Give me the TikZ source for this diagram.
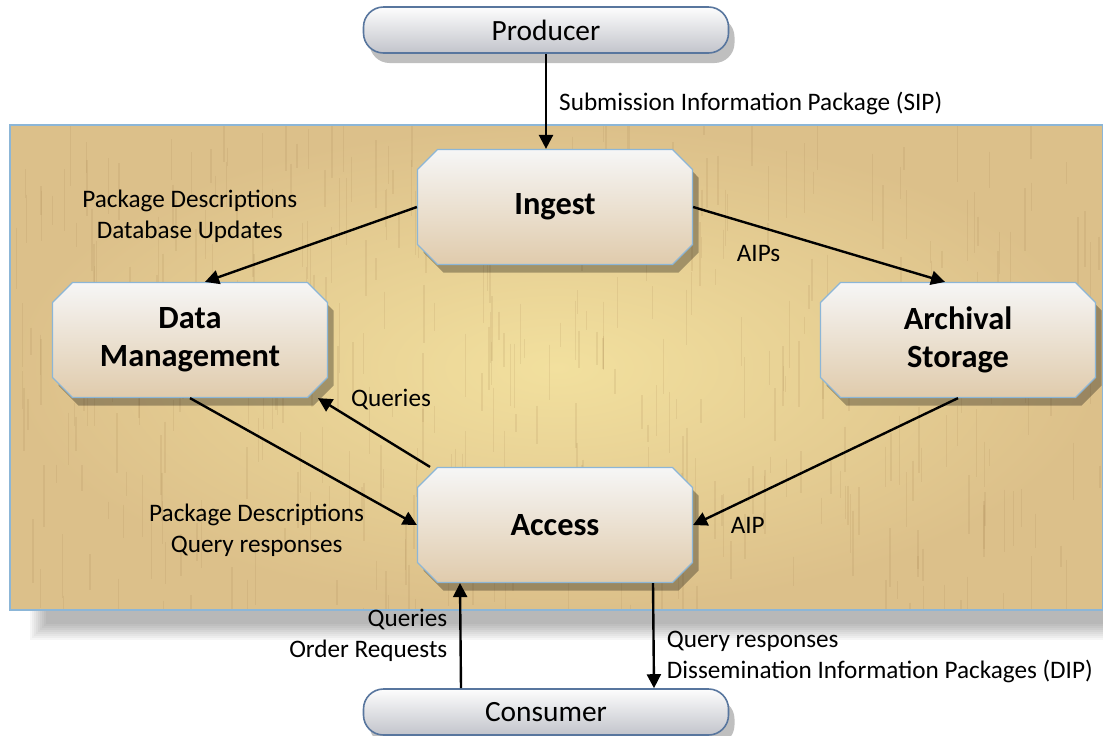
\documentclass[tikz,border=0pt]{standalone}
\usepackage{fontspec}
\setmainfont{Carlito}
\usetikzlibrary{positioning,shapes.misc,arrows.meta,shadows}

\definecolor{papyrus}{RGB}{220,192,138}
\definecolor{papyruslight}{RGB}{242,224,158}
\definecolor{papyrusfibre}{RGB}{170,135,85}
\definecolor{boxtop}{RGB}{246,246,246}
\definecolor{boxbottom}{RGB}{224,203,172}
\definecolor{boxline}{RGB}{140,182,215}
\definecolor{pilltop}{RGB}{253,253,253}
\definecolor{pillbottom}{RGB}{194,196,203}
\definecolor{pillline}{RGB}{88,118,158}

\begin{document}
\begin{tikzpicture}[
  x=0.5pt, y=-0.5pt,
  every node/.style={font=\fontsize{12.6}{15.5}\selectfont},
  func/.style ={chamfered rectangle, chamfered rectangle xsep=5pt,
                chamfered rectangle ysep=5pt, draw=boxline, line width=0.6pt,
                top color=boxtop, bottom color=boxbottom,
                minimum width=137.5pt, minimum height=57.5pt, align=center,
                font=\fontsize{16.2}{19}\selectfont\bfseries,
                drop shadow={shadow xshift=3pt, shadow yshift=-4pt,
                             opacity=0.3, fill=black}},
  pill/.style ={draw=pillline, line width=0.8pt, rounded corners=10pt,
                top color=pilltop, bottom color=pillbottom,
                minimum width=182.5pt, minimum height=23pt,
                font=\fontsize{14.7}{16}\selectfont,
                drop shadow={shadow xshift=3pt, shadow yshift=-5pt,
                             opacity=0.25, fill=black}},
  lbl/.style  ={inner sep=2pt},
  arr/.style  ={-{Triangle[length=7pt,width=7pt]}, line width=1.2pt}
]
\useasboundingbox (0,0) rectangle (1103,735);

% soft shadow under the papyrus panel
\foreach \d in {0,2,...,16}
  \fill[black, opacity=0.035] (30+\d,140+\d) rectangle (1103,640-\d);
% papyrus panel
\fill[papyrus] (10,125) rectangle (1103,610);
\shade[inner color=papyruslight, outer color=papyrus] (10,125) rectangle (1103,610);
\begin{scope}
  \clip (10,125) rectangle (1103,610);
  \pgfmathsetseed{7}
  \foreach \k in {1,...,420}
    \draw[papyrusfibre, opacity=0.16, line width=0.7pt]
      ({10+1093*rnd},{115+495*rnd}) -- ++(0,{15+55*rnd});
\end{scope}
\draw[boxline, line width=0.8pt] (10,125) rectangle (1103,610);

\node[pill] (producer) at (546,30) {Producer};
\node[func] (ingest)   at (555,207) {Ingest};
\node[func] (dataman)  at (190,340) {Data\\Management};
\node[func] (archive)  at (958,340) {Archival\\Storage};
\node[func] (access)   at (555,525) {Access};
\node[pill] (consumer) at (546,712) {Consumer};

\draw[arr] (producer.south) -- (producer.south |- ingest.north)
  node[lbl, pos=0.52, right=4pt] {Submission Information Package (SIP)};
\draw[arr] (ingest.west) -- ([xshift=7.5pt]dataman.north)
  node[lbl, pos=0.54, anchor=south east, align=center]
  {Package Descriptions\\Database Updates};
\draw[arr] (ingest.east) -- ([xshift=-6.5pt]archive.north)
  node[lbl, pos=0.26, anchor=north, yshift=-7pt] {AIPs};
\draw[arr] (dataman.south) -- (access.west)
  node[lbl, pos=0.79, anchor=north east, align=center]
  {Package Descriptions\\Query responses};
\draw[arr] ([xshift=-62.5pt]access.north) -- ([xshift=64pt]dataman.south)
  node[lbl, pos=0.75, anchor=south west] {Queries};
\draw[arr] (archive.south) -- (access.east)
  node[lbl, pos=0.9, anchor=north west, xshift=3pt] {AIP};
\draw[arr] ([xshift=-42.5pt]consumer.north) -- ([xshift=-47.5pt]access.south)
  node[lbl, pos=0.5, left=4pt, align=right] {Queries\\Order Requests};
\draw[arr] ([xshift=49pt]access.south) -- ([xshift=54pt]consumer.north)
  node[lbl, pos=0.7, right=4pt, align=left]
  {Query responses\\Dissemination Information Packages (DIP)};

\end{tikzpicture}
\end{document}
